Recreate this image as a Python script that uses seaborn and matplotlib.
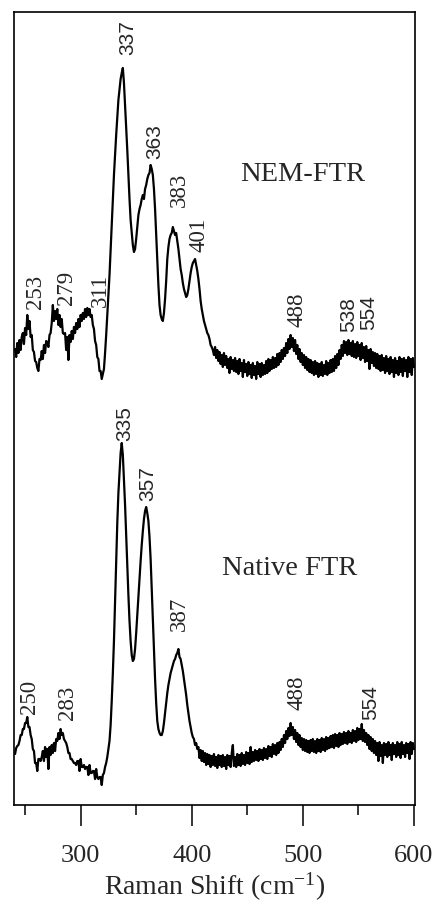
import numpy as np
import pandas as pd
import matplotlib
matplotlib.use("Agg")
import matplotlib.pyplot as plt
import seaborn as sns

# ---------------- data ----------------
# NEM-FTR spectrum (upper trace)
nem_x = [241, 242, 243, 244, 245, 246, 247, 248, 249, 250, 251, 252, 253, 254, 255, 256, 257, 258, 259, 260,
         261, 262, 263, 264, 265, 266, 267, 268, 269, 270, 271, 272, 273, 274, 275, 276, 277, 278, 279, 280,
         281, 282, 283, 284, 285, 286, 287, 288, 289, 290, 291, 292, 293, 294, 295, 296, 297, 298, 299, 300,
         301, 302, 303, 304, 305, 306, 307, 308, 309, 310, 311, 312, 313, 314, 315, 316, 317, 318, 319, 320,
         321, 322, 323, 324, 326, 328, 330, 332, 334, 336, 337, 338, 339, 340, 341, 342, 343, 344, 345, 346,
         347, 348, 349, 350, 351, 352, 353, 354, 355, 356, 357, 358, 359, 360, 361, 362, 363, 364, 365, 366,
         367, 368, 369, 370, 371, 372, 373, 374, 375, 376, 377, 378, 379, 380, 381, 382, 383, 384, 385, 386,
         387, 388, 389, 390, 391, 392, 393, 394, 395, 396, 397, 398, 399, 400, 401, 402, 403, 404, 405, 406,
         407, 408, 409, 410, 411, 412, 413, 414, 415, 416, 417, 418, 419, 420,
         421, 422, 423, 424, 425, 426, 427, 428, 429, 430, 431, 432, 433, 434, 435, 436, 437, 438, 439, 440,
         441, 442, 443, 444, 445, 446, 447, 448, 449, 450, 451, 452, 453, 454, 455, 456, 457, 458, 459, 460,
         461, 462, 463, 464, 465, 466, 467, 468, 469, 470, 471, 472, 473, 474, 475, 476, 477, 478, 479, 480,
         481, 482, 483, 484, 485, 486, 487, 488, 489, 490, 491, 492, 493, 494, 495, 496, 497, 498, 499, 500,
         501, 502, 503, 504, 505, 506, 507, 508, 509, 510, 511, 512, 513, 514, 515, 516, 517, 518, 519, 520,
         521, 522, 523, 524, 525, 526, 527, 528, 529, 530, 531, 532, 533, 534, 535, 536, 537, 538, 539, 540,
         541, 542, 543, 544, 545, 546, 547, 548, 549, 550, 551, 552, 553, 554, 555, 556, 557, 558, 559, 560,
         561, 562, 563, 564, 565, 566, 567, 568, 569, 570, 571, 572, 573, 574, 575, 576, 577, 578, 579, 580,
         581, 582, 583, 584, 585, 586, 587, 588, 589, 590, 591, 592, 593, 594, 595, 596, 597, 598, 599, 600]
nem_y = [456, 448, 462, 452, 465, 455, 468, 472, 461, 477, 470, 490, 476, 484, 468, 470, 455, 453, 444, 443,
         437, 434, 446, 445, 454, 446, 460, 452, 464, 463, 458, 470, 472, 482, 500, 484, 494, 486, 496, 480,
         490, 478, 486, 472, 471, 472, 455, 468, 445, 470, 463, 474, 466, 478, 472, 482, 476, 486, 478, 490,
         484, 492, 486, 496, 488, 497, 490, 496, 488, 490, 480, 476, 464, 460, 448, 446, 434, 434, 426, 431,
         436, 452, 470, 490, 530, 580, 630, 670, 705, 726, 732, 737, 722, 700, 678, 655, 630, 606, 585, 572,
         560, 553, 556, 566, 578, 590, 596, 600, 606, 610, 606, 616, 620, 626, 630, 632, 640, 636, 630, 616,
         596, 570, 544, 520, 500, 490, 486, 484, 492, 506, 524, 546, 558, 566, 570, 572, 578, 574, 570, 572,
         564, 556, 546, 536, 530, 522, 516, 512, 508, 510, 516, 524, 532, 538, 542, 544, 546, 540, 534, 526,
         516, 504, 496, 490, 484, 480, 476, 472, 470, 466, 460, 458, 455, 450,
         458, 447, 455, 444, 453, 441, 450, 438, 452, 440, 449, 437, 446, 432, 448, 436, 445, 434, 447, 433,
         444, 431, 446, 434, 442, 428, 445, 433, 441, 429, 443, 431, 440, 427, 442, 430, 439, 426, 443, 431,
         441, 428, 442, 430, 440, 431, 444, 432, 446, 434, 445, 436, 448, 437, 447, 438, 451, 440, 452, 443,
         455, 446, 457, 449, 462, 452, 466, 456, 470, 458, 467, 454, 465, 451, 460, 446, 456, 443, 452, 440,
         450, 437, 448, 435, 446, 433, 445, 432, 443, 430, 444, 431, 442, 428, 441, 430, 443, 429, 440, 431,
         444, 430, 442, 432, 445, 433, 446, 434, 449, 437, 451, 440, 455, 446, 460, 449, 464, 452, 463, 450,
         465, 451, 462, 449, 464, 448, 461, 447, 463, 449, 460, 445, 462, 447, 458, 443, 459, 444, 455, 436,
         456, 442, 453, 439, 452, 437, 451, 436, 449, 434, 450, 435, 447, 432, 449, 434, 446, 431, 448, 433,
         445, 428, 447, 432, 444, 430, 448, 433, 446, 429, 447, 434, 445, 428, 448, 433, 446, 430, 447, 438]

# Native FTR spectrum (lower trace)
nat_x = [241, 242, 243, 244, 245, 246, 247, 248, 249, 250, 251, 252, 253, 254, 255, 256, 257, 258, 259, 260,
         261, 262, 263, 264, 265, 266, 267, 268, 269, 270, 271, 272, 273, 274, 275, 276, 277, 278, 279, 280,
         281, 282, 283, 284, 285, 286, 287, 288, 289, 290, 291, 292, 293, 294, 295, 296, 297, 298, 299, 300,
         301, 302, 303, 304, 305, 306, 307, 308, 309, 310, 311, 312, 313, 314, 315, 316, 317, 318, 319, 320,
         321, 322, 323, 324, 325, 326, 327, 328, 329, 330, 331, 332, 333, 334, 335, 336, 337, 338, 339, 340,
         341, 342, 343, 344, 345, 346, 347, 348, 349, 350, 351, 352, 353, 354, 355, 356, 357, 358, 359, 360,
         361, 362, 363, 364, 365, 366, 367, 368, 369, 370, 371, 372, 373, 374, 375, 376, 377, 378, 379, 380,
         381, 382, 383, 384, 385, 386, 387, 388, 389, 390, 391, 392, 393, 394, 395, 396, 397, 398, 399, 400,
         401, 402, 403, 404, 405,
         406, 407, 408, 409, 410, 411, 412, 413, 414, 415, 416, 417, 418, 419, 420, 421, 422, 423, 424, 425,
         426, 427, 428, 429, 430, 431, 432, 433, 434, 435, 436, 437, 438, 439, 440, 441, 442, 443, 444, 445,
         446, 447, 448, 449, 450, 451, 452, 453, 454, 455, 456, 457, 458, 459, 460, 461, 462, 463, 464, 465,
         466, 467, 468, 469, 470, 471, 472, 473, 474, 475, 476, 477, 478, 479, 480, 481, 482, 483, 484, 485,
         486, 487, 488, 489, 490, 491, 492, 493, 494, 495, 496, 497, 498, 499, 500, 501, 502, 503, 504, 505,
         506, 507, 508, 509, 510, 511, 512, 513, 514, 515, 516, 517, 518, 519, 520, 521, 522, 523, 524, 525,
         526, 527, 528, 529, 530, 531, 532, 533, 534, 535, 536, 537, 538, 539, 540, 541, 542, 543, 544, 545,
         546, 547, 548, 549, 550, 551, 552, 553, 554, 555, 556, 557, 558, 559, 560, 561, 562, 563, 564, 565,
         566, 567, 568, 569, 570, 571, 572, 573, 574, 575, 576, 577, 578, 579, 580, 581, 582, 583, 584, 585,
         586, 587, 588, 589, 590, 591, 592, 593, 594, 595, 596, 597, 598, 599, 600]
nat_y = [51, 57, 59, 60, 64, 70, 70, 76, 76, 82, 82, 88, 78, 78, 70, 66, 56, 54, 42, 42,
         34, 46, 46, 44, 48, 54, 44, 58, 48, 56, 36, 58, 50, 60, 52, 62, 54, 66, 64, 72,
         66, 76, 70, 72, 66, 64, 62, 58, 52, 52, 46, 46, 44, 42, 42, 40, 44, 44, 34, 46,
         38, 38, 40, 36, 38, 38, 30, 40, 32, 32, 34, 34, 26, 36, 28, 26, 28, 28, 20, 30,
         32, 38, 42, 48, 56, 64, 80, 104, 132, 164, 204, 244, 282, 312, 332, 352, 362, 350, 325, 300,
         270, 240, 210, 184, 164, 150, 144, 146, 156, 172, 190, 208, 226, 244, 260, 274, 286, 294, 298, 292,
         284, 268, 246, 216, 186, 154, 126, 102, 84, 76, 72, 70, 70, 74, 82, 92, 102, 112, 120, 126,
         132, 136, 140, 144, 146, 150, 152, 156, 148, 146, 140, 134, 126, 118, 110, 100, 92, 84, 78, 72,
         68, 66, 60, 62, 56,
         58, 47, 55, 44, 54, 43, 52, 40, 51, 41, 50, 38, 49, 40, 51, 39, 48, 37, 50, 40,
         49, 38, 50, 39, 48, 36, 50, 40, 49, 38, 52, 60, 39, 48, 38, 51, 40, 50, 39, 52,
         41, 50, 40, 53, 42, 52, 41, 58, 43, 53, 44, 55, 45, 54, 44, 56, 46, 55, 45, 57,
         47, 56, 46, 59, 49, 58, 48, 61, 51, 60, 50, 62, 52, 63, 55, 66, 58, 70, 62, 74,
         66, 77, 69, 82, 70, 78, 66, 75, 63, 72, 60, 70, 58, 67, 55, 66, 54, 65, 53, 64,
         52, 65, 54, 66, 53, 64, 52, 66, 54, 65, 53, 67, 55, 66, 54, 68, 56, 67, 57, 69,
         58, 70, 57, 71, 59, 70, 58, 72, 60, 71, 61, 73, 62, 72, 61, 74, 63, 72, 62, 75,
         64, 74, 63, 77, 65, 76, 66, 81, 64, 75, 63, 72, 60, 70, 56, 68, 54, 66, 52, 64,
         50, 62, 44, 63, 49, 60, 42, 62, 50, 61, 48, 63, 50, 60, 45, 62, 51, 60, 48, 63,
         50, 61, 47, 63, 51, 60, 48, 62, 52, 61, 46, 63, 51, 62, 56]

# peak annotations: label text, x, y
nem_labels = ["337", "363", "383", "401", "253", "279", "311", "488", "538", "554"]
nem_lab_x = [342.1, 366.4, 388.9, 406.9, 259.2, 287.1, 317.7, 494.3, 541.2, 559.2]
nem_lab_y = [768, 664, 616, 571, 514, 518, 516, 496, 491, 493]
nem_lab_sans = [True, True, False, False, False, False, False, False, True, True]

nat_labels = ["335", "357", "387", "250", "283", "488", "554"]
nat_lab_x = [339.4, 360.1, 388.9, 253.8, 288.0, 494.3, 561.0]
nat_lab_y = [382, 322, 192, 109, 103, 113, 103]
nat_lab_sans = [True, True, False, False, False, False, True]

sample_names = ["NEM-FTR", "Native FTR"]
sample_x = [499.7, 488.0]
sample_y = [632, 238]

major_ticks = [300, 400, 500, 600]
minor_ticks = [250, 350, 450, 550]

# ---------------- plotting ----------------
sns.set_style("ticks")
plt.rcParams["font.family"] = ["Liberation Serif", "DejaVu Serif"]
plt.rcParams["mathtext.default"] = "regular"

fig = plt.figure(figsize=(4.36, 9.03), dpi=100)
ax = fig.add_axes([0.032, 0.1074, 0.920, 0.8782])

df = pd.concat([
    pd.DataFrame({"shift": nem_x, "intensity": nem_y, "sample": "NEM-FTR"}),
    pd.DataFrame({"shift": nat_x, "intensity": nat_y, "sample": "Native FTR"}),
])
sns.lineplot(data=df, x="shift", y="intensity", units="sample", estimator=None,
             sort=False, color="black", linewidth=1.6, ax=ax, legend=False)

ax.set_xlim(240, 601)
ax.set_ylim(0, 793)
ax.set_yticks([])
ax.set_ylabel("")
ax.set_xticks(major_ticks)
ax.set_xticks(minor_ticks, minor=True)
ax.tick_params(axis="x", which="major", direction="out", length=15, width=1.1,
               labelsize=19, pad=13, color="black")
ax.tick_params(axis="x", which="minor", direction="out", length=7.5, width=1.1, color="black")
ax.set_xlabel("Raman Shift (cm$^{-1}$)", fontsize=20, labelpad=3)
for s in ax.spines.values():
    s.set_visible(True)
    s.set_linewidth(1.2)
    s.set_color("black")

for labs, xs, ys, sans in [(nem_labels, nem_lab_x, nem_lab_y, nem_lab_sans),
                           (nat_labels, nat_lab_x, nat_lab_y, nat_lab_sans)]:
    for t, x, y, sf in zip(labs, xs, ys, sans):
        if sf:
            ax.text(x, y, t, rotation=90, ha="center", va="center", fontsize=15,
                    family=["Liberation Sans", "DejaVu Sans"])
        else:
            ax.text(x, y, t, rotation=90, ha="center", va="center", fontsize=16.5)

for t, x, y in zip(sample_names, sample_x, sample_y):
    ax.text(x, y, t, ha="center", va="center", fontsize=20.5)

fig.savefig("out.png", dpi=100)
